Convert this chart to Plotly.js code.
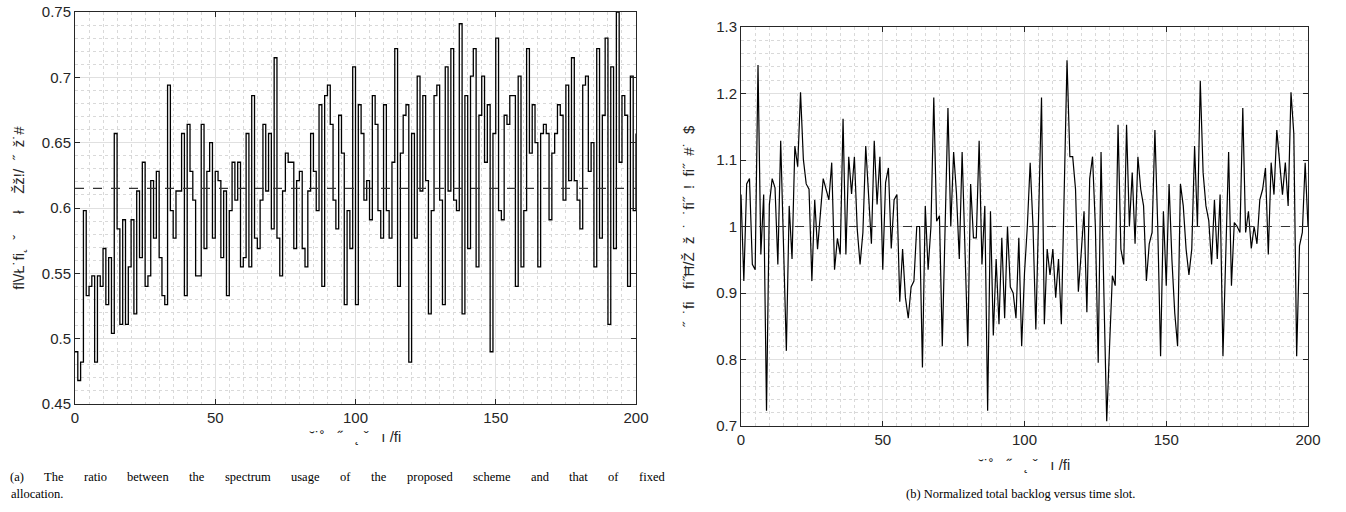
<!DOCTYPE html>
<html>
<head>
<meta charset="utf-8">
<script src="https://cdn.plot.ly/plotly-3.0.1.min.js"></script>
<style>
html,body{margin:0;padding:0;background:#fff;}
#chart{width:1346px;height:512px;}
</style>
</head>
<body>
<div id="chart"></div>
<script>
// ---- data ----
const ratioValues = [
0.490,0.468,0.482,0.598,0.533,0.540,0.548,0.482,0.548,0.540,
0.569,0.526,0.562,0.504,0.657,0.584,0.511,0.591,0.511,0.555,
0.591,0.519,0.613,0.562,0.635,0.540,0.548,0.621,0.577,0.628,
0.562,0.533,0.526,0.694,0.598,0.577,0.613,0.613,0.657,0.533,
0.664,0.628,0.606,0.548,0.548,0.664,0.569,0.628,0.650,0.577,
0.628,0.621,0.562,0.613,0.533,0.598,0.635,0.606,0.635,0.555,
0.562,0.657,0.555,0.686,0.577,0.569,0.606,0.664,0.613,0.657,
0.584,0.715,0.577,0.548,0.613,0.642,0.635,0.635,0.569,0.621,
0.628,0.569,0.555,0.613,0.657,0.628,0.598,0.679,0.540,0.686,
0.694,0.664,0.606,0.584,0.671,0.642,0.526,0.598,0.569,0.708,
0.526,0.679,0.657,0.606,0.621,0.591,0.686,0.664,0.598,0.577,
0.679,0.598,0.577,0.635,0.722,0.540,0.642,0.671,0.679,0.482,
0.657,0.577,0.701,0.613,0.686,0.621,0.519,0.598,0.686,0.694,
0.606,0.526,0.708,0.613,0.722,0.606,0.598,0.741,0.519,0.686,
0.569,0.701,0.722,0.555,0.671,0.701,0.635,0.679,0.490,0.657,
0.730,0.598,0.591,0.671,0.664,0.686,0.686,0.540,0.701,0.555,
0.598,0.722,0.642,0.679,0.650,0.555,0.657,0.664,0.657,0.591,
0.642,0.657,0.679,0.671,0.606,0.694,0.621,0.715,0.621,0.606,
0.584,0.694,0.701,0.628,0.650,0.555,0.722,0.577,0.671,0.730,
0.511,0.708,0.569,0.750,0.635,0.686,0.671,0.540,0.701,0.598,
0.657];
const ratioMean = 0.615;

const backlogValues = [
1.048,0.918,1.064,1.072,0.943,0.935,1.243,0.958,1.048,0.723,
1.033,1.072,1.058,0.943,1.129,0.960,0.813,1.031,0.951,1.121,
1.090,1.202,1.101,1.064,1.056,0.918,1.040,0.966,1.022,1.072,
1.056,1.040,1.096,0.935,0.982,0.958,1.162,0.958,1.105,1.049,
1.105,0.996,0.943,0.991,1.121,1.040,0.974,1.129,1.033,1.105,
0.935,1.066,1.088,0.967,1.040,1.048,0.887,0.966,0.893,0.862,
0.909,0.918,1.000,1.000,0.788,1.031,0.935,1.000,1.194,1.008,
1.016,0.820,1.000,1.178,1.000,1.112,1.050,0.951,1.112,0.950,
0.820,1.064,0.983,0.983,1.129,0.943,1.031,0.723,1.023,0.836,
0.951,0.853,0.983,0.862,1.000,0.909,0.900,0.862,0.983,0.820,
0.930,1.000,1.096,1.000,0.845,1.020,1.194,0.853,0.966,0.927,
0.966,0.893,0.951,0.853,1.050,1.250,1.105,1.105,1.056,0.902,
0.960,1.023,0.871,1.072,1.105,1.000,0.795,1.112,0.900,0.707,
0.820,0.926,0.911,1.153,0.966,0.943,1.153,1.000,1.081,0.974,
1.105,1.056,1.031,0.918,0.974,0.991,1.145,1.000,0.805,1.023,
0.911,1.064,0.950,0.870,0.820,1.064,1.031,0.966,0.927,0.966,
1.121,1.000,1.219,1.081,1.031,1.009,0.943,1.040,0.951,1.048,
0.805,0.970,1.112,0.911,1.006,1.000,0.991,1.178,0.991,1.023,
0.967,1.000,0.974,1.040,1.056,1.088,0.958,1.096,1.048,1.145,
1.090,1.048,1.096,1.031,1.202,1.139,0.805,0.971,0.991,1.096,
1.000];
const backlogMean = 1.0;

const xTicks = [0, 50, 100, 150, 200];
const leftYTicks = [0.45, 0.5, 0.55, 0.6, 0.65, 0.7, 0.75];
const leftYTickText = ["0.45","0.5","0.55","0.6","0.65","0.7","0.75"];
const rightYTicks = [0.7, 0.8, 0.9, 1.0, 1.1, 1.2, 1.3];
const rightYTickText = ["0.7","0.8","0.9","1","1.1","1.2","1.3"];

const leftYTitle = "ﬂ\\/Ł˙ﬁ˛  ˇ     ł    Žž!/  ˝  ž˙#";
const rightYTitle = "˝  ˙ﬁ   ﬁ˝Ħ/Ž  ž  ˙  ˙ﬁ˝  !  ﬁ˝  #˙  $";
const xTitle = "˘˙˚   ˝   ˛ ˇ   ı /ﬁ";
const captionA1 = "(a) The ratio between the spectrum usage of the proposed scheme and that of fixed";
const captionA2 = "allocation.";
const captionB = "(b) Normalized total backlog versus time slot.";

// ---- build ----
const slotsL = ratioValues.map((_, i) => i);
const slotsR = backlogValues.map((_, i) => i);

const W = 1346, H = 512;
const px = (a, b) => [a / W, b / W];
const py = (top, bottom) => [1 - bottom / H, 1 - top / H];

const font = "Liberation Sans, Arial, Helvetica, sans-serif";
const axColor = "#262626";

function xAxis(domain, anchor, standoff) {
  return {
    domain: domain, anchor: anchor, range: [0, 200],
    tickvals: xTicks, ticks: "inside", ticklen: 5, tickcolor: axColor,
    showline: true, linecolor: axColor, linewidth: 1, mirror: "ticks",
    showgrid: true, gridcolor: "#e0e0e0", gridwidth: 1, zeroline: false,
    minor: {dtick: 5, showgrid: true, gridcolor: "#d9d9d9", griddash: "dot", gridwidth: 1},
    tickfont: {family: font, size: 15, color: axColor},
    title: {text: xTitle, font: {family: font, size: 15, color: axColor}, standoff: standoff}
  };
}
function yAxis(domain, anchor, range, vals, text, minorStep, title, standoff) {
  return {
    domain: domain, anchor: anchor, range: range,
    tickvals: vals, ticktext: text, ticks: "inside", ticklen: 5, tickcolor: axColor,
    showline: true, linecolor: axColor, linewidth: 1, mirror: "ticks",
    showgrid: true, gridcolor: "#e0e0e0", gridwidth: 1, zeroline: false,
    minor: {dtick: minorStep, showgrid: true, gridcolor: "#d9d9d9", griddash: "dot", gridwidth: 1},
    tickfont: {family: font, size: 15, color: axColor},
    title: {text: title, font: {family: font, size: 15, color: axColor}, standoff: standoff}
  };
}

const traces = [
  {x: slotsL, y: ratioValues, type: "scatter", mode: "lines", line: {shape: "hv", color: "#000", width: 1.3},
   xaxis: "x", yaxis: "y", hoverinfo: "skip"},
  {x: [0, 200], y: [ratioMean, ratioMean], type: "scatter", mode: "lines",
   line: {color: "#333", width: 1.2, dash: "dash"}, xaxis: "x", yaxis: "y", hoverinfo: "skip"},
  {x: slotsR, y: backlogValues, type: "scatter", mode: "lines", line: {color: "#000", width: 1.2},
   xaxis: "x2", yaxis: "y2", hoverinfo: "skip"},
  {x: [0, 200], y: [backlogMean, backlogMean], type: "scatter", mode: "lines",
   line: {color: "#333", width: 1.2, dash: "dash"}, xaxis: "x2", yaxis: "y2", hoverinfo: "skip"}
];

// caption (a) first line is justified between x=10 and x=665
const serif = "Liberation Serif, Times New Roman, serif";
const capSize = 12.5;
const capFont = {family: serif, size: capSize, color: "#000"};
const annotations = [];
(function () {
  const words = captionA1.split(" ");
  const cv = document.createElement("canvas").getContext("2d");
  cv.font = capSize + "px 'Liberation Serif'";
  const widths = words.map(w => cv.measureText(w).width);
  const total = widths.reduce((a, b) => a + b, 0);
  const left = 10, right = 665;
  const gap = (right - left - total) / (words.length - 1);
  let x = left;
  words.forEach((w, i) => {
    annotations.push({text: w, x: x / W, y: 1 - 477 / H, xref: "paper", yref: "paper",
      xanchor: "left", yanchor: "middle", showarrow: false, font: capFont, borderpad: 0, borderwidth: 0});
    x += widths[i] + gap;
  });
})();
annotations.push({text: captionA2, x: 10 / W, y: 1 - 494 / H, xref: "paper", yref: "paper", xanchor: "left",
  yanchor: "middle", showarrow: false, font: capFont, borderpad: 0});
annotations.push({text: captionB, x: 1020 / W, y: 1 - 494 / H, xref: "paper", yref: "paper", xanchor: "center",
  yanchor: "middle", showarrow: false, font: capFont});

const layout = {
  width: W, height: H, margin: {l: 0, r: 0, t: 0, b: 0},
  paper_bgcolor: "#fff", plot_bgcolor: "#fff", showlegend: false,
  xaxis: xAxis(px(75, 636), "y", 6),
  yaxis: yAxis(py(12, 404), "x", [0.45, 0.75], leftYTicks, leftYTickText, 0.01, leftYTitle, 13),
  xaxis2: xAxis(px(741, 1308), "y2", 12),
  yaxis2: yAxis(py(27, 426), "x2", [0.7, 1.3], rightYTicks, rightYTickText, 0.02, rightYTitle, 17),
  annotations: annotations
};

Plotly.newPlot("chart", traces, layout, {staticPlot: true, displayModeBar: false});
</script>
</body>
</html>
